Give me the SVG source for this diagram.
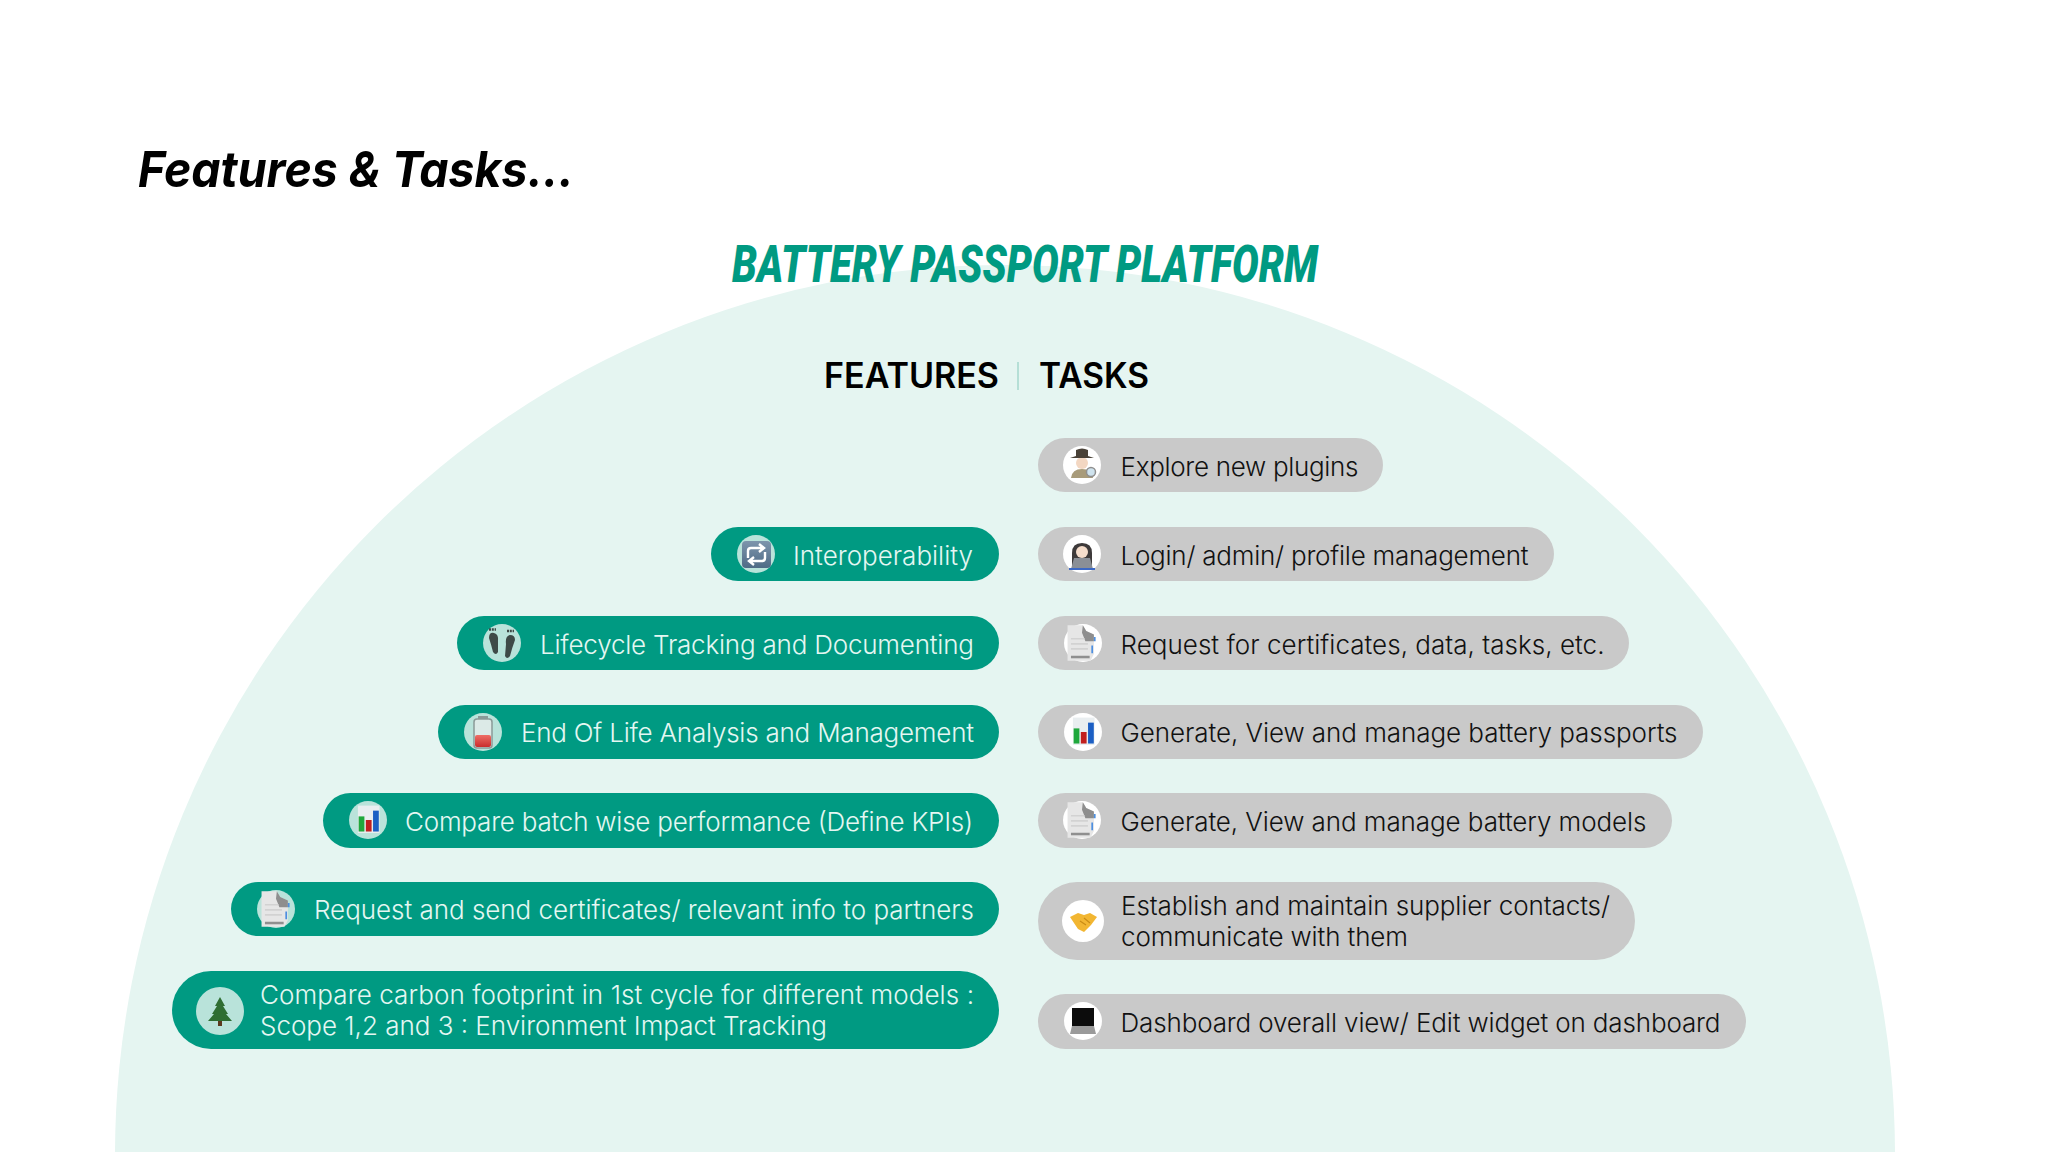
<svg xmlns="http://www.w3.org/2000/svg" width="2048" height="1152" viewBox="0 0 2048 1152">
<defs>
<style>
.f{fill:#009A82}.t{fill:#C9C9C9}
.fc{fill:#B9E3DA}.tc{fill:#fff}
.ft{font-family:Inter,"Noto Sans",sans-serif;font-size:26px;font-weight:300;fill:#E4F7F2}
.tt{font-family:Inter,"Noto Sans",sans-serif;font-size:26px;font-weight:300;fill:#111}
.h{font-family:Inter,"Noto Sans",sans-serif;font-size:35px;font-weight:600;fill:#000}
</style>
<linearGradient id="rep" x1="0" y1="0" x2="0" y2="1"><stop offset="0" stop-color="#7D95AC"/><stop offset="1" stop-color="#4F6B86"/></linearGradient>
<linearGradient id="bat" x1="0" y1="0" x2="0" y2="1"><stop offset="0" stop-color="#EE6E66"/><stop offset="1" stop-color="#C92D2D"/></linearGradient>
<g id="doc"><path d="M-17-21H1L5-14L14-10V13L10 21H-17Z" fill="#E6E6E6"/><path d="M1-21L5-14L14-10V-2H4L0-12Z" fill="#8E8E8E"/><path d="M-13 15H9V18H-13Z" fill="#8F8F8F"/><path d="M-13-5H3M-13 1H7M-13 7H7" stroke="#D2D2D2" stroke-width="2"/><path d="M15-7V-2M12 3V12" stroke="#4D8FE0" stroke-width="2"/></g>
<g id="bars"><rect x="-14" y="-20" width="30" height="38" fill="#E9EEF0"/><rect x="-13" y="-5" width="8" height="21" fill="#1FA83C"/><rect x="-3" y="0" width="8" height="16" fill="#C21F1F"/><rect x="7" y="-13" width="8" height="29" fill="#1C5FC4"/></g>
</defs>
<rect width="2048" height="1152" fill="#fff"/>
<circle cx="1005" cy="1155" r="890" fill="#E5F5F1"/>
<text x="138" y="187" font-family="Inter,'Noto Sans',sans-serif" font-size="50" font-weight="700" font-style="italic" fill="#000" textLength="436" lengthAdjust="spacingAndGlyphs">Features &amp; Tasks...</text>
<text x="732" y="282" font-family="Roboto,'Liberation Sans',sans-serif" font-size="52" font-weight="900" font-style="italic" fill="#009A82" textLength="586" lengthAdjust="spacingAndGlyphs">BATTERY PASSPORT PLATFORM</text>
<text x="824" y="388" class="h" textLength="175" lengthAdjust="spacingAndGlyphs">FEATURES</text>
<text x="1039" y="388" class="h" textLength="110" lengthAdjust="spacingAndGlyphs">TASKS</text>
<path d="M1018 362V390" stroke="#B5DFD6" stroke-width="2"/>

<g id="f1"><rect class="f" x="711" y="527" width="288" height="54" rx="27"/><circle class="fc" cx="756" cy="554" r="19"/><rect x="742" y="541" width="29" height="27" rx="4" fill="url(#rep)"/><path d="M748 558V551Q748 548 751 548H763M759 544L764 548L759 552M765 552V558Q765 561 762 561H750M754 565L749 561L754 557" fill="none" stroke="#fff" stroke-width="2.4"/><text class="ft" x="793" y="565" textLength="180">Interoperability</text></g>
<g id="f2"><rect class="f" x="457" y="616" width="542" height="54" rx="27"/><circle class="fc" cx="502" cy="643" r="19"/><path d="M489 638Q489 632 494 633Q499 634 498 642L498 652Q496 656 493 652Q491 644 489 638Z" fill="#3E4A47"/><path d="M515 640Q515 635 510 635Q505 636 506 644L505 656Q507 660 510 656Q512 648 515 640Z" fill="#3E4A47"/><path d="M489 629.500h7M507 631h7" stroke="#3E4A47" stroke-width="2.5" stroke-dasharray="2 .8"/><text class="ft" x="540" y="654" textLength="434">Lifecycle Tracking and Documenting</text></g>
<g id="f3"><rect class="f" x="438" y="705" width="561" height="54" rx="27"/><circle class="fc" cx="483" cy="732" r="19"/><rect x="478" y="716" width="10" height="3" fill="#8a9a98"/><rect x="474" y="719" width="18" height="29" rx="3" fill="#DCEAE7" stroke="#8a9a98" stroke-width="1.5"/><rect x="475" y="735" width="16" height="12" rx="2" fill="url(#bat)"/><text class="ft" x="521" y="742" textLength="453">End Of Life Analysis and Management</text></g>
<g id="f4"><rect class="f" x="323" y="793" width="676" height="55" rx="27.5"/><circle class="fc" cx="368" cy="820" r="19"/><use href="#bars" transform="translate(368 820) scale(.72)"/><text class="ft" x="405" y="831" textLength="568">Compare batch wise performance (Define KPIs)</text></g>
<g id="f5"><rect class="f" x="231" y="882" width="768" height="54" rx="27"/><circle class="fc" cx="276" cy="909" r="19"/><use href="#doc" transform="translate(276 909) scale(.85)"/><text class="ft" x="314" y="919" textLength="660">Request and send certificates/ relevant info to partners</text></g>
<g id="f6"><rect class="f" x="172" y="971" width="827" height="78" rx="39"/><circle class="fc" cx="220" cy="1011" r="24"/><path d="M220 997L225 1006L223 1006L228 1014L226 1014L232 1021H208L214 1014L212 1014L217 1006L215 1006Z" fill="#2F6E32"/><rect x="218" y="1021" width="4" height="5" fill="#5B3A1E"/><text class="ft" x="260" y="1004" textLength="714">Compare carbon footprint in 1st cycle for different models :</text><text class="ft" x="260" y="1035" textLength="567">Scope 1,2 and 3 : Environment Impact Tracking</text></g>

<g id="t1"><rect class="t" x="1038" y="438" width="345" height="54" rx="27"/><circle class="tc" cx="1082" cy="465" r="19"/><path d="M1071 478Q1072 469 1082 469Q1092 469 1093 478Z" fill="#A89B7A"/><circle cx="1082" cy="463" r="6" fill="#F3D7C2"/><path d="M1070 458L1076 456V450Q1082 447 1088 450V456L1094 458Z" fill="#4A4238"/><circle cx="1091" cy="472" r="4.5" fill="#CFE3EE" stroke="#8f8f8f" stroke-width="1.5"/><text class="tt" x="1120.500" y="476" textLength="238">Explore new plugins</text></g>
<g id="t2"><rect class="t" x="1038" y="527" width="516" height="54" rx="27"/><circle class="tc" cx="1082" cy="554" r="19"/><path d="M1072 566V553Q1072 543 1082 543Q1092 543 1092 553V566Z" fill="#3E3A3A"/><circle cx="1082" cy="552" r="6" fill="#F5DDCB"/><path d="M1071 569L1074 558H1090L1093 569Z" fill="#8A8F96"/><path d="M1069 569H1095" stroke="#3C68C4" stroke-width="2"/><text class="tt" x="1120.500" y="565" textLength="408">Login/ admin/ profile management</text></g>
<g id="t3"><rect class="t" x="1038" y="616" width="591" height="54" rx="27"/><circle class="tc" cx="1083" cy="643" r="19"/><use href="#doc" transform="translate(1082 643) scale(.85)"/><text class="tt" x="1120.500" y="654" textLength="484">Request for certificates, data, tasks, etc.</text></g>
<g id="t4"><rect class="t" x="1038" y="705" width="665" height="54" rx="27"/><circle class="tc" cx="1083" cy="732" r="19"/><use href="#bars" transform="translate(1083 732) scale(.72)"/><text class="tt" x="1120.500" y="742" textLength="557">Generate, View and manage battery passports</text></g>
<g id="t5"><rect class="t" x="1038" y="793" width="634" height="55" rx="27.5"/><circle class="tc" cx="1082" cy="820" r="19"/><use href="#doc" transform="translate(1082 820) scale(.85)"/><text class="tt" x="1120.500" y="831" textLength="526">Generate, View and manage battery models</text></g>
<g id="t6"><rect class="t" x="1038" y="882" width="597" height="78" rx="39"/><circle class="tc" cx="1083" cy="921" r="21"/><path d="M1070 917L1078 913L1084 915L1090 913L1097 917L1091 925L1084 932L1078 929Z" fill="#F2B632"/><path d="M1080 921L1086 925M1084 918L1090 923" stroke="#C98B14" stroke-width="1.2"/><text class="tt" x="1121" y="915" textLength="489">Establish and maintain supplier contacts/</text><text class="tt" x="1121" y="946" textLength="287">communicate with them</text></g>
<g id="t7"><rect class="t" x="1038" y="994" width="708" height="55" rx="27.5"/><circle class="tc" cx="1083" cy="1021" r="19"/><rect x="1072" y="1008" width="22" height="18" fill="#0c0c0c"/><path d="M1070 1034L1072 1026H1094L1096 1034Z" fill="#9a9a9a"/><text class="tt" x="1120.500" y="1032" textLength="600">Dashboard overall view/ Edit widget on dashboard</text></g>
</svg>
